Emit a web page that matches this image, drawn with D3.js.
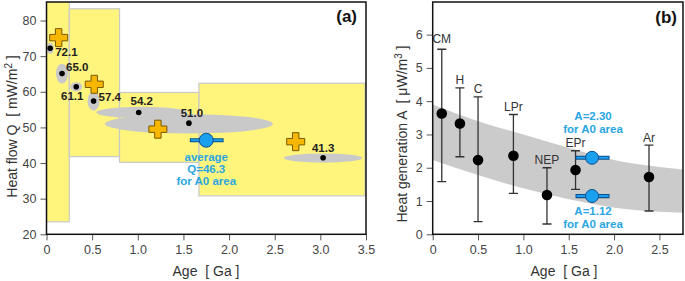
<!DOCTYPE html>
<html>
<head>
<meta charset="utf-8">
<script src="https://cdn.jsdelivr.net/npm/d3@7"></script>
<style>
  body { margin: 0; background: #fff; }
  text { font-family: "Liberation Sans", Arial, sans-serif; }
</style>
</head>
<body>
<svg id="chart" width="685" height="281"></svg>
<script>
"use strict";

/* ---------- panel (a) data ---------- */
// yellow age provinces
const provAgeFrom = [0, 0.25, 0.8, 1.67];
const provAgeTo   = [0.25, 0.8, 1.67, 3.49];
const provQLow    = [23.5, 41.8, 40.2, 30.8];
const provQHigh   = [90, 83.3, 59.8, 62.4];

// measured heat flow (dots + grey uncertainty ellipses)
const qAge      = [0.04, 0.17, 0.326, 0.516, 1.01, 1.56, 3.03];
const qValue    = [72.2, 65.1, 61.4, 57.4, 54.2, 51.2, 41.5];
const qLabel    = ["72.1", "65.0", "61.1", "57.4", "54.2", "51.0", "41.3"];
const ellAge    = [0.04, 0.17, 0.326, 0.516, 1.045, 1.56, 3.03];
const ellQ      = [72.2, 65.1, 61.4, 57.4, 54.2, 51.0, 41.4];
const ellAgeErr = [0.04, 0.066, 0.066, 0.066, 0.5, 0.92, 0.43];
const ellQErr   = [1.55, 2.8, 1.3, 2.7, 1.6, 2.7, 1.3];

// model values (gold crosses)
const crossAge = [0.133, 0.523, 1.22, 2.73];
const crossQ   = [75.2, 62.1, 49.5, 46.0];

// average for A0 area
const avgAge = 1.75;
const avgAgeRange = [1.57, 1.94];
const avgQ = 46.4;
const avgText = ["average", "Q=46.3", "for A0 area"];

/* ---------- panel (b) data ---------- */
const unitName = ["CM", "H", "C", "LPr", "NEP", "EPr", "Ar"];
const unitAge  = [0.10, 0.30, 0.50, 0.89, 1.26, 1.575, 2.385];
const unitA    = [3.63, 3.33, 2.23, 2.36, 1.18, 1.93, 1.72];
const unitLow  = [1.58, 2.33, 0.38, 1.23, 0.31, 1.35, 0.70];
const unitHigh = [5.56, 4.40, 4.13, 3.60, 2.00, 2.51, 2.68];

const bandAge   = [0, 0.5, 1.0, 1.5, 2.0, 2.5, 2.76];
const bandUpper = [3.90, 3.40, 3.00, 2.60, 2.23, 2.02, 1.95];
const bandLower = [2.23, 1.78, 1.38, 1.05, 0.80, 0.68, 0.65];

const a0Age = 1.757;
const a0AgeRange = [1.575, 1.95];
const a0Values = [2.30, 1.15];
const a0Text = [["A=2.30", "for A0 area"], ["A=1.12", "for A0 area"]];

const xTicksA = [0, 0.5, 1.0, 1.5, 2.0, 2.5, 3.0, 3.5];
const yTicksA = [20, 30, 40, 50, 60, 70, 80];
const xTicksB = [0, 0.5, 1.0, 1.5, 2.0, 2.5];
const yTicksB = [0, 1, 2, 3, 4, 5, 6];

/* ---------- styles ---------- */
const yellow = "#fff47c";
const lightGrey = "#c9c9c9";
const blue = "#1aa0ef";
const blueDark = "#0d4f8c";
const blueText = "#2aa6e2";
const gold = "#f7b600";
const goldDark = "#7a5800";
const tickCol = "#444";

let svg = d3.select("svg#chart");

function plusPath(cx, cy, L, w) {
  return `M${cx-w},${cy-L}H${cx+w}V${cy-w}H${cx+L}V${cy+w}H${cx+w}V${cy+L}` +
         `H${cx-w}V${cy+w}H${cx-L}V${cy-w}H${cx-w}Z`;
}

function drawAxes(g, x, y, xt, yt, xFmt, box) {
  let xa = g.append("g")
    .attr("transform", `translate(0,${box.bottom})`)
    .call(d3.axisBottom(x).tickValues(xt).tickFormat(xFmt).tickSize(6).tickPadding(5));
  let ya = g.append("g")
    .attr("transform", `translate(${box.left},0)`)
    .call(d3.axisLeft(y).tickValues(yt).tickFormat(d3.format("d")).tickSize(6).tickPadding(4));
  [xa, ya].forEach(a => {
    a.select(".domain").remove();
    a.selectAll(".tick line").attr("stroke", "#555").attr("stroke-width", 1);
    a.selectAll(".tick text").attr("fill", tickCol).style("font-size", "12.5px")
      .style("font-family", '"Liberation Sans", Arial, sans-serif');
  });
  g.append("rect")
    .attr("x", box.left).attr("y", box.top)
    .attr("width", box.right - box.left).attr("height", box.bottom - box.top)
    .attr("fill", "none").attr("stroke", "#111").attr("stroke-width", 1.5);
}

function xFormat(d) { return d === 0 ? "0" : d3.format(".1f")(d); }

/* ================= panel (a) ================= */
let boxA = { left: 46.5, right: 366, top: 2, bottom: 234.3 };
let xA = d3.scaleLinear().domain([0, 3.5]).range([boxA.left, boxA.right]);
let yA = d3.scaleLinear().domain([20, 85.2]).range([boxA.bottom, boxA.top]);

let gA = svg.append("g");
svg.append("clipPath").attr("id", "clipA").append("rect")
  .attr("x", boxA.left).attr("y", boxA.top)
  .attr("width", boxA.right - boxA.left).attr("height", boxA.bottom - boxA.top);
let plotA = gA.append("g").attr("clip-path", "url(#clipA)");

/* yellow provinces */
plotA.selectAll("rect.prov")
  .data(d3.range(provAgeFrom.length))
  .enter().append("rect")
  .attr("class", "prov")
  .attr("x", i => xA(provAgeFrom[i]))
  .attr("y", i => yA(provQHigh[i]))
  .attr("width", i => xA(provAgeTo[i]) - xA(provAgeFrom[i]))
  .attr("height", i => yA(provQLow[i]) - yA(provQHigh[i]))
  .attr("fill", yellow)
  .attr("stroke", lightGrey)
  .attr("stroke-width", 1.2);

/* grey ellipses */
plotA.selectAll("ellipse.unc")
  .data(d3.range(ellAge.length))
  .enter().append("ellipse")
  .attr("class", "unc")
  .attr("cx", i => xA(ellAge[i]))
  .attr("cy", i => yA(ellQ[i]))
  .attr("rx", i => xA(ellAgeErr[i]) - xA(0))
  .attr("ry", i => yA(0) - yA(ellQErr[i]))
  .attr("fill", lightGrey);

/* gold crosses */
plotA.selectAll("path.model")
  .data(d3.range(crossAge.length))
  .enter().append("path")
  .attr("class", "model")
  .attr("d", i => plusPath(xA(crossAge[i]), yA(crossQ[i]), 9, 3.2))
  .attr("fill", gold)
  .attr("stroke", goldDark)
  .attr("stroke-width", 1);

/* black dots + labels */
plotA.selectAll("circle.obs")
  .data(d3.range(qAge.length))
  .enter().append("circle")
  .attr("class", "obs")
  .attr("cx", i => xA(qAge[i]))
  .attr("cy", i => yA(qValue[i]))
  .attr("r", 2.8)
  .attr("fill", "#000");

// label placement relative to each dot
const qLabelPos = [
  { dx: 5, dy: 8, anchor: "start" },
  { dx: 4, dy: -3, anchor: "start" },
  { dx: -4, dy: 13, anchor: "middle" },
  { dx: 5, dy: 0, anchor: "start" },
  { dx: 3, dy: -7, anchor: "middle" },
  { dx: 3, dy: -6, anchor: "middle" },
  { dx: 0, dy: -6, anchor: "middle" }
];
gA.selectAll("text.qlab")
  .data(d3.range(qLabel.length))
  .enter().append("text")
  .attr("class", "qlab")
  .attr("x", i => xA(qAge[i]) + qLabelPos[i].dx)
  .attr("y", i => yA(qValue[i]) + qLabelPos[i].dy)
  .attr("text-anchor", i => qLabelPos[i].anchor)
  .style("font-size", "11.5px")
  .style("font-weight", "bold")
  .attr("fill", "#222")
  .text(i => qLabel[i]);

/* average marker */
plotA.append("line")
  .attr("x1", xA(avgAgeRange[0])).attr("x2", xA(avgAgeRange[1]))
  .attr("y1", yA(avgQ)).attr("y2", yA(avgQ))
  .attr("stroke", blueDark).attr("stroke-width", 4.2);
plotA.append("line")
  .attr("x1", xA(avgAgeRange[0]) + 1).attr("x2", xA(avgAgeRange[1]) - 1)
  .attr("y1", yA(avgQ)).attr("y2", yA(avgQ))
  .attr("stroke", blue).attr("stroke-width", 2);
plotA.append("circle")
  .attr("cx", xA(avgAge)).attr("cy", yA(avgQ)).attr("r", 7)
  .attr("fill", blue).attr("stroke", blueDark).attr("stroke-width", 1);
gA.selectAll("text.avg")
  .data(avgText)
  .enter().append("text")
  .attr("class", "avg")
  .attr("x", xA(avgAge))
  .attr("y", (d, i) => yA(avgQ) + 20.5 + i * 12.2)
  .attr("text-anchor", "middle")
  .style("font-size", "11.5px")
  .style("font-weight", "bold")
  .attr("fill", blueText)
  .text(d => d);

drawAxes(gA, xA, yA, xTicksA, yTicksA, xFormat, boxA);

gA.append("text")
  .attr("x", 357).attr("y", 22)
  .attr("text-anchor", "end")
  .style("font-size", "17px").style("font-weight", "bold")
  .attr("fill", "#111")
  .text("(a)");

gA.append("text")
  .attr("x", 206).attr("y", 275.5)
  .attr("text-anchor", "middle")
  .style("font-size", "14px").attr("fill", "#333")
  .style("white-space", "pre")
  .text("Age  [ Ga ]");

let ylabA = gA.append("text")
  .attr("transform", "translate(17,126.5) rotate(-90)")
  .attr("text-anchor", "middle")
  .style("font-size", "14px").attr("fill", "#333")
  .style("white-space", "pre");
ylabA.append("tspan").text("Heat flow Q  [ mW/m");
ylabA.append("tspan").attr("dy", -5).style("font-size", "10px").text("2");
ylabA.append("tspan").attr("dy", 5).text(" ]");

/* ================= panel (b) ================= */
let boxB = { left: 432.7, right: 683, top: 2, bottom: 234.3 };
let xB = d3.scaleLinear().domain([0, 2.76]).range([boxB.left, boxB.right]);
let yB = d3.scaleLinear().domain([0, 6.98]).range([boxB.bottom, boxB.top]);

let gB = svg.append("g");
svg.append("clipPath").attr("id", "clipB").append("rect")
  .attr("x", boxB.left).attr("y", boxB.top)
  .attr("width", boxB.right - boxB.left).attr("height", boxB.bottom - boxB.top);
let plotB = gB.append("g").attr("clip-path", "url(#clipB)");

let band = d3.area()
  .x(i => xB(bandAge[i]))
  .y0(i => yB(bandLower[i]))
  .y1(i => yB(bandUpper[i]))
  .curve(d3.curveMonotoneX);
plotB.append("path")
  .datum(d3.range(bandAge.length))
  .attr("d", band)
  .attr("fill", "#cbcbcb");

/* error bars */
let eb = plotB.selectAll("g.unit")
  .data(d3.range(unitName.length))
  .enter().append("g").attr("class", "unit");
eb.append("line")
  .attr("x1", i => xB(unitAge[i])).attr("x2", i => xB(unitAge[i]))
  .attr("y1", i => yB(unitLow[i])).attr("y2", i => yB(unitHigh[i]))
  .attr("stroke", "#333").attr("stroke-width", 1.3);
[unitLow, unitHigh].forEach(arr => {
  eb.append("line")
    .attr("x1", i => xB(unitAge[i]) - 4.5).attr("x2", i => xB(unitAge[i]) + 4.5)
    .attr("y1", i => yB(arr[i])).attr("y2", i => yB(arr[i]))
    .attr("stroke", "#333").attr("stroke-width", 1.3);
});
eb.append("circle")
  .attr("cx", i => xB(unitAge[i])).attr("cy", i => yB(unitA[i]))
  .attr("r", 5.3).attr("fill", "#000");
gB.selectAll("text.unitlab")
  .data(d3.range(unitName.length))
  .enter().append("text")
  .attr("class", "unitlab")
  .attr("x", i => xB(unitAge[i]))
  .attr("y", i => yB(unitHigh[i]) - (i === 0 ? 6 : 3.5))
  .attr("text-anchor", "middle")
  .style("font-size", "12px")
  .attr("fill", "#333")
  .text(i => unitName[i]);

/* A0 area markers */
a0Values.forEach((v, k) => {
  plotB.append("line")
    .attr("x1", xB(a0AgeRange[0])).attr("x2", xB(a0AgeRange[1]))
    .attr("y1", yB(v)).attr("y2", yB(v))
    .attr("stroke", blueDark).attr("stroke-width", 4.2);
  plotB.append("line")
    .attr("x1", xB(a0AgeRange[0]) + 1).attr("x2", xB(a0AgeRange[1]) - 1)
    .attr("y1", yB(v)).attr("y2", yB(v))
    .attr("stroke", blue).attr("stroke-width", 2);
  plotB.append("circle")
    .attr("cx", xB(a0Age)).attr("cy", yB(v)).attr("r", 6.5)
    .attr("fill", blue).attr("stroke", blueDark).attr("stroke-width", 1);
});
// upper label sits above the marker, lower label below it
const a0TextY = [[120, 132.5], [215, 227.5]];
a0Text.forEach((lines, k) => {
  lines.forEach((t, j) => {
    gB.append("text")
      .attr("x", xB(a0Age) + 1)
      .attr("y", a0TextY[k][j])
      .attr("text-anchor", "middle")
      .style("font-size", "11.5px").style("font-weight", "bold")
      .attr("fill", blueText)
      .text(t);
  });
});

drawAxes(gB, xB, yB, xTicksB, yTicksB, xFormat, boxB);

gB.append("text")
  .attr("x", 677).attr("y", 23)
  .attr("text-anchor", "end")
  .style("font-size", "17px").style("font-weight", "bold")
  .attr("fill", "#111")
  .text("(b)");

gB.append("text")
  .attr("x", 564).attr("y", 275.5)
  .attr("text-anchor", "middle")
  .style("font-size", "14px").attr("fill", "#333")
  .style("white-space", "pre")
  .text("Age  [ Ga ]");

let ylabB = gB.append("text")
  .attr("transform", "translate(407,134) rotate(-90)")
  .attr("text-anchor", "middle")
  .style("font-size", "14px").attr("fill", "#333")
  .style("white-space", "pre");
ylabB.append("tspan").text("Heat generation A  [ \u03bcW/m");
ylabB.append("tspan").attr("dy", -5).style("font-size", "10px").text("3");
ylabB.append("tspan").attr("dy", 5).text(" ]");
</script>
</body>
</html>
